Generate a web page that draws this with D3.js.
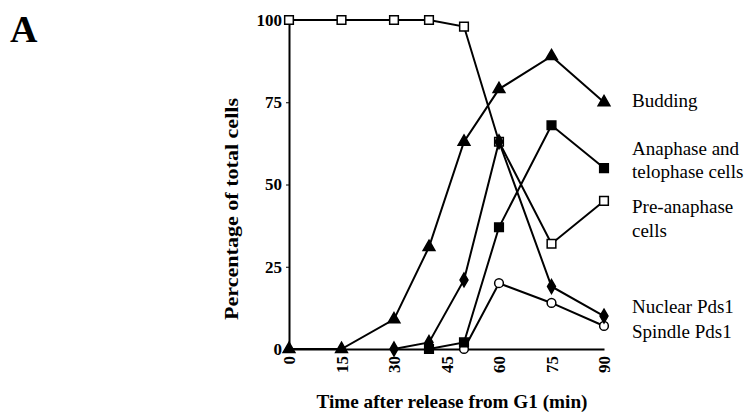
<!DOCTYPE html>
<html>
<head>
<meta charset="utf-8">
<script src="https://cdn.jsdelivr.net/npm/d3@7"></script>
<style>
  body { margin: 0; background: #fff; }
  text { font-family: "Liberation Serif", "Times New Roman", serif; }
</style>
</head>
<body>
<div id="chart"></div>
<script>
// Data (minutes after G1 release -> % of cells)
const preTimes = [0, 15, 30, 40, 50, 60, 75, 90];
const preValues = [100, 100, 100, 100, 98, 63, 32, 45];
const buddingTimes = [0, 15, 30, 40, 50, 60, 75, 90];
const buddingValues = [0, 0, 9, 31, 63, 79, 89, 75];
const anaTimes = [40, 50, 60, 75, 90];
const anaValues = [0, 2, 37, 68, 55];
const nuclearTimes = [30, 40, 50, 60, 75, 90];
const nuclearValues = [0, 2, 21, 63, 19, 10];
const spindleTimes = [50, 60, 75, 90];
const spindleValues = [0, 20, 14, 7];
const xTicks = [0, 15, 30, 45, 60, 75, 90];
const yTicks = [0, 25, 50, 75, 100];

const width = 746, height = 414;
const svg = d3.select('#chart').append('svg')
    .attr('width', width)
    .attr('height', height);

const x = d3.scaleLinear().domain([0, 90]).range([289, 604]);
const y = d3.scaleLinear().domain([0, 100]).range([349, 20]);

// Panel letter
svg.append('text')
    .attr('x', 10).attr('y', 42)
    .style('font-size', '38px')
    .style('font-weight', 'bold')
    .text('A');

const yAxis = d3.axisLeft(y).tickValues(yTicks).tickSize(3).tickPadding(4);
const gy = svg.append('g').attr('transform', `translate(${x(0)},0)`).call(yAxis);
gy.select('.domain').attr('stroke-width', 2);
gy.selectAll('text')
    .style('font-size', '17px')
    .style('font-weight', 'bold')
    .style('font-family', '"Liberation Serif", serif');

const xAxis = d3.axisBottom(x).tickValues(xTicks).tickSize(0).tickFormat(d3.format('d'));
const gx = svg.append('g').attr('transform', `translate(0,${y(0)})`).call(xAxis);
gx.select('.domain').attr('stroke-width', 2);
gx.selectAll('text')
    .attr('transform', 'rotate(-90)')
    .attr('x', -7).attr('y', 0).attr('dy', '0.35em')
    .style('text-anchor', 'end')
    .style('font-size', '17px')
    .style('font-weight', 'bold')
    .style('font-family', '"Liberation Serif", serif');

// Axis titles
svg.append('text')
    .attr('transform', 'translate(238, 209) rotate(-90)')
    .attr('text-anchor', 'middle')
    .attr('textLength', 222)
    .attr('lengthAdjust', 'spacingAndGlyphs')
    .style('font-size', '19px')
    .style('font-weight', 'bold')
    .text('Percentage of total cells');

svg.append('text')
    .attr('x', 452).attr('y', 408)
    .attr('text-anchor', 'middle')
    .attr('textLength', 271)
    .attr('lengthAdjust', 'spacingAndGlyphs')
    .style('font-size', '19px')
    .style('font-weight', 'bold')
    .text('Time after release from G1 (min)');

const line = d3.line().x(d => x(d[0])).y(d => y(d[1]));
const series = [
    { t: preTimes, v: preValues, shape: 'square', fill: '#fff' },
    { t: buddingTimes, v: buddingValues, shape: 'triangle', fill: '#000' },
    { t: spindleTimes, v: spindleValues, shape: 'circle', fill: '#fff' },
    { t: anaTimes, v: anaValues, shape: 'square', fill: '#000' },
    { t: nuclearTimes, v: nuclearValues, shape: 'diamond', fill: '#000' }
];

const symbols = {
    triangle: d3.symbol().type(d3.symbolTriangle).size(60),
    diamond: d3.symbol().type(d3.symbolDiamond).size(55),
    circle: d3.symbol().type(d3.symbolCircle).size(60),
    square: d3.symbol().type(d3.symbolSquare).size(75)
};

series.forEach(s => {
    const pts = s.t.map((t, i) => [t, s.v[i]]);
    svg.append('path')
        .datum(pts)
        .attr('d', line)
        .style('fill', 'none')
        .style('stroke', '#000')
        .style('stroke-width', 2);
    svg.selectAll(null)
        .data(pts)
        .enter()
        .append('path')
        .attr('d', symbols[s.shape])
        .attr('transform', d => `translate(${x(d[0])},${y(d[1])})`)
        .style('fill', s.fill)
        .style('stroke', '#000')
        .style('stroke-width', 1.5);
});

// Series labels at the right
const labels = [
    { text: 'Budding', yy: 107 },
    { text: 'Anaphase and', yy: 155 },
    { text: 'telophase cells', yy: 178 },
    { text: 'Pre-anaphase', yy: 213 },
    { text: 'cells', yy: 237 },
    { text: 'Nuclear Pds1', yy: 313 },
    { text: 'Spindle Pds1', yy: 338 }
];
svg.selectAll('text.lab')
    .data(labels)
    .enter()
    .append('text')
    .attr('class', 'lab')
    .attr('x', 632)
    .attr('y', d => d.yy)
    .style('font-size', '19px')
    .text(d => d.text);
</script>
</body>
</html>
